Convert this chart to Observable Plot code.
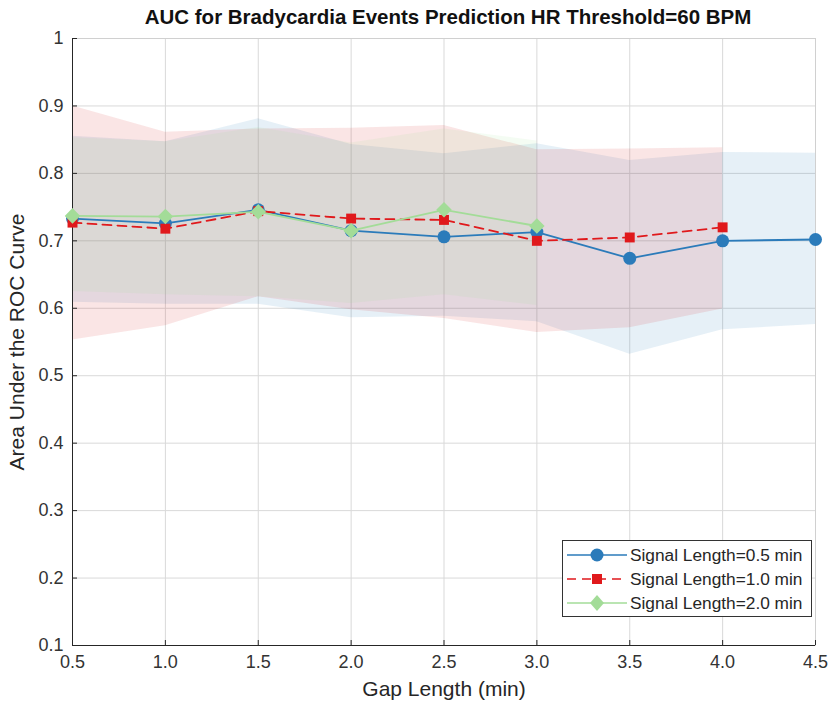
<!DOCTYPE html>
<html>
<head>
<meta charset="utf-8">
<script src="https://cdn.jsdelivr.net/npm/d3@7"></script>
<script src="https://cdn.jsdelivr.net/npm/@observablehq/plot@0.6"></script>
<style>
  body { margin: 0; background: #fff; font-family: "Liberation Sans", Arial, sans-serif; }
  #wrap { position: relative; width: 833px; height: 712px; }
  #title { position: absolute; top: 5px; left: 0; width: 896px; text-align: center; font-weight: bold; font-size: 20.5px; color: #111; }
  #legend { position: absolute; left: 562px; top: 540px; width: 250px; height: 77px; border: 1px solid #333; background: #fff; box-sizing: border-box; font-size: 17.3px; color: #262626; }
  .row { position: absolute; left: 0; height: 22px; display: flex; align-items: center; }
  .row span { margin-left: 3px; white-space: nowrap; }
</style>
</head>
<body>
<div id="wrap">
  <div id="title">AUC for Bradycardia Events Prediction HR Threshold=60 BPM</div>
  <div id="chart"></div>
  <div id="legend"></div>
</div>
<script>
// ---- data ----
const gap = [0.5, 1.0, 1.5, 2.0, 2.5, 3.0, 3.5, 4.0, 4.5];
const auc05 = [0.733, 0.726, 0.746, 0.715, 0.706, 0.713, 0.674, 0.700, 0.702];
const lo05  = [0.609, 0.606, 0.606, 0.586, 0.588, 0.580, 0.532, 0.568, 0.576];
const hi05  = [0.855, 0.847, 0.881, 0.843, 0.829, 0.844, 0.819, 0.831, 0.830];
const auc10 = [0.727, 0.718, 0.744, 0.733, 0.731, 0.700, 0.705, 0.720];
const lo10  = [0.553, 0.574, 0.617, 0.598, 0.585, 0.564, 0.571, 0.599];
const hi10  = [0.900, 0.861, 0.866, 0.867, 0.871, 0.835, 0.836, 0.838];
const auc20 = [0.737, 0.736, 0.743, 0.715, 0.746, 0.722];
const lo20  = [0.625, 0.620, 0.617, 0.607, 0.620, 0.604];
const hi20  = [0.853, 0.847, 0.868, 0.845, 0.866, 0.848];
const seriesNames = ["Signal Length=0.5 min", "Signal Length=1.0 min", "Signal Length=2.0 min"];
const xTicks = [0.5, 1.0, 1.5, 2.0, 2.5, 3.0, 3.5, 4.0, 4.5];
const yTicks = [0.1, 0.2, 0.3, 0.4, 0.5, 0.6, 0.7, 0.8, 0.9, 1.0];

const colors = ["#2b7bba", "#e0191c", "#a3dc98"];
const bandColors = ["#1f77b4", "#d62728", "#98df8a"];

function rows(auc, lo, hi, s) {
  return auc.map((v, i) => ({gap: gap[i], auc: v, lo: lo[i], hi: hi[i], s}));
}
const d05 = rows(auc05, lo05, hi05, seriesNames[0]);
const d10 = rows(auc10, lo10, hi10, seriesNames[1]);
const d20 = rows(auc20, lo20, hi20, seriesNames[2]);

const chart = Plot.plot({
  width: 833,
  height: 712,
  marginLeft: 72,
  marginRight: 18,
  marginTop: 38,
  marginBottom: 67,
  style: {fontFamily: "'Liberation Sans', Arial, sans-serif", fontSize: "18px", color: "#333", background: "#fff"},
  x: {domain: [0.5, 4.5]},
  y: {domain: [0.1, 1.0]},
  marks: [
    Plot.gridX(xTicks, {stroke: "#d9d9d9", strokeOpacity: 1}),
    Plot.gridY(yTicks, {stroke: "#d9d9d9", strokeOpacity: 1}),
    Plot.frame({stroke: "#d0d0d0"}),
    Plot.areaY(d05, {x: "gap", y1: "lo", y2: "hi", fill: bandColors[0], fillOpacity: 0.11}),
    Plot.areaY(d10, {x: "gap", y1: "lo", y2: "hi", fill: bandColors[1], fillOpacity: 0.12}),
    Plot.areaY(d20, {x: "gap", y1: "lo", y2: "hi", fill: bandColors[2], fillOpacity: 0.1}),
    Plot.ruleX([0.5], {stroke: "#262626", strokeWidth: 1}),
    Plot.ruleY([0.1], {stroke: "#262626", strokeWidth: 1}),
    Plot.axisX(xTicks, {tickFormat: d => d.toFixed(1), tickSize: -5, tickPadding: 15, stroke: "#262626", color: "#333", label: null}),
    Plot.axisY(yTicks, {tickFormat: d => d === 1 ? "1" : d.toFixed(1), tickSize: -5, tickPadding: 14, stroke: "#262626", color: "#333", label: null}),
    Plot.text(["Gap Length (min)"], {frameAnchor: "bottom", dy: 50, fontSize: 21, fill: "#262626"}),
    Plot.text(["Area Under the ROC Curve"], {frameAnchor: "left", textAnchor: "middle", dx: -55, rotate: -90, fontSize: 21, fill: "#262626"}),
    Plot.line(d05, {x: "gap", y: "auc", stroke: colors[0], strokeWidth: 1.8}),
    Plot.dot(d05, {x: "gap", y: "auc", fill: colors[0], r: 6.5, symbol: "circle"}),
    Plot.line(d10, {x: "gap", y: "auc", stroke: colors[1], strokeWidth: 1.8, strokeDasharray: "9,6"}),
    Plot.dot(d10, {x: "gap", y: "auc", fill: colors[1], r: 5.6, symbol: "square"}),
    Plot.line(d20, {x: "gap", y: "auc", stroke: colors[2], strokeWidth: 1.8}),
    Plot.dot(d20, {x: "gap", y: "auc", fill: colors[2], r: 7, symbol: "diamond2"})
  ]
});
document.getElementById("chart").appendChild(chart);

// legend
const legend = document.getElementById("legend");
const symbols = [
  `<circle cx="30" cy="11" r="6.5" fill="${colors[0]}"/>`,
  `<rect x="25" y="6" width="10" height="10" fill="${colors[1]}"/>`,
  `<path d="M30,3 L37,11 L30,19 L23,11 Z" fill="${colors[2]}"/>`
];
const dashes = ["", "stroke-dasharray=\"9,6\"", ""];
seriesNames.forEach((name, i) => {
  const row = document.createElement("div");
  row.className = "row";
  row.style.top = (3 + i * 24) + "px";
  row.innerHTML = `<svg width="60" height="22" style="margin-left:4px"><line x1="0" x2="60" y1="11" y2="11" stroke="${colors[i]}" stroke-width="1.6" ${dashes[i]}/>${symbols[i]}</svg><span>${name}</span>`;
  legend.appendChild(row);
});
</script>
</body>
</html>
